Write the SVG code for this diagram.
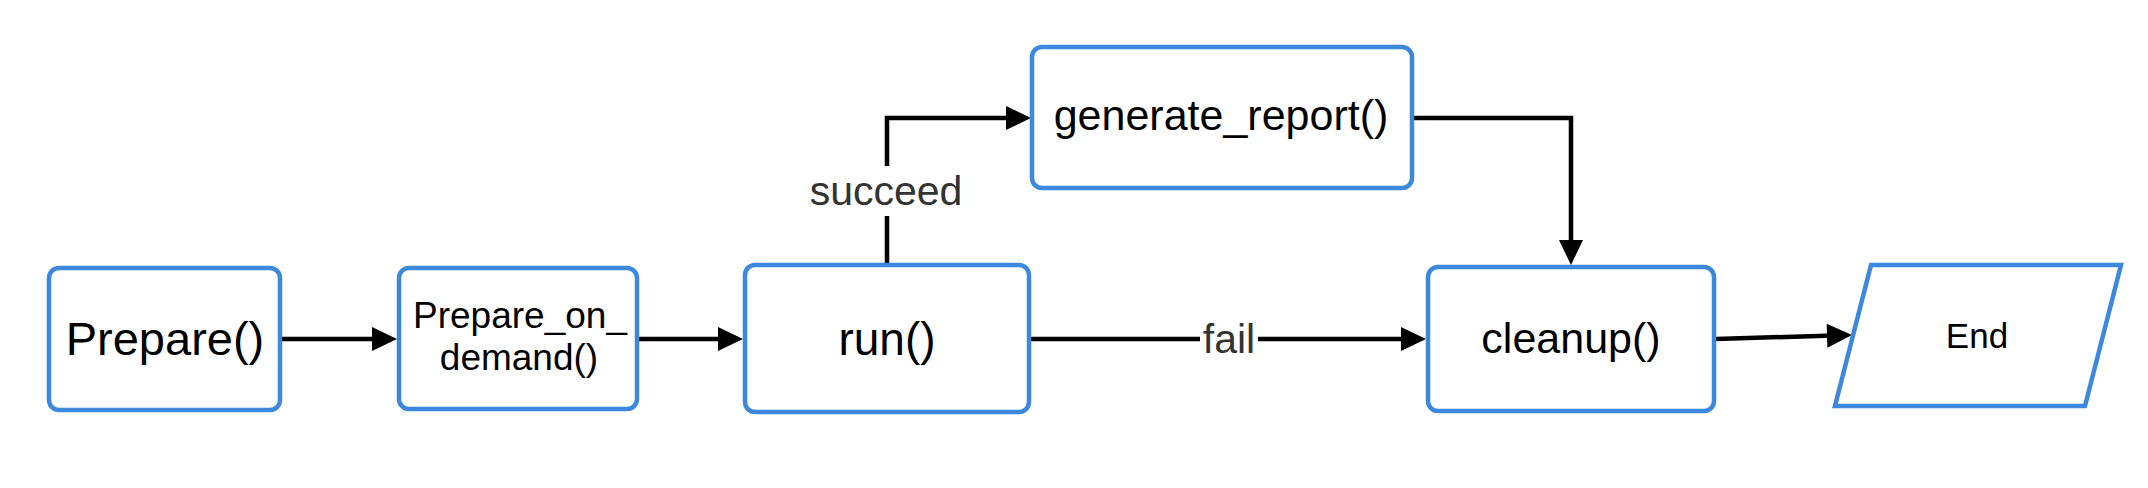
<svg xmlns="http://www.w3.org/2000/svg" width="2148" height="488" viewBox="0 0 2148 488">
<style>
.node { fill: #ffffff; stroke: #3b88dd; stroke-width: 4.5; }
.t { font-family: "Liberation Sans", Arial, sans-serif; fill: #000000; text-anchor: middle; }
.lbl { font-family: "Liberation Sans", Arial, sans-serif; fill: #333333; text-anchor: middle; font-size: 41px; }
.edge { fill: none; stroke: #000000; stroke-width: 4.5; marker-end: url(#arrow); }
.lblbg { fill: #ffffff; }
</style>
<defs>
<marker id="arrow" markerUnits="userSpaceOnUse" markerWidth="26" markerHeight="26" refX="15" refY="12" orient="auto" viewBox="0 0 26 24" overflow="visible">
<path d="M0,0 L25,12 L0,24 Z" fill="#000000"/>
</marker>
</defs>
<rect width="2148" height="488" fill="#ffffff"/>
<g id="connectors">
<path class="edge" d="M282,339 L387,339"/>
<path class="edge" d="M639,339 L733,339"/>
<path class="edge" d="M887,265 L887,118 L1021,118"/>
<path class="edge" d="M1031,339 L1416,339"/>
<path class="edge" d="M1413,118 L1571,118 L1571,255"/>
<path class="edge" d="M1716,339 L1842,335.3"/>
<rect class="lblbg" x="804" y="166" width="166" height="50"/>
<text class="lbl" x="886" y="205">succeed</text>
<rect class="lblbg" x="1200" y="318" width="58" height="44"/>
<text class="lbl" x="1229" y="353" font-size="42">fail</text>
</g>
<g id="prepare">
<rect class="node" x="49" y="268" width="231" height="142" rx="10"/>
<text class="t" x="165" y="355" font-size="47">Prepare()</text>
</g>
<g id="prepare_on_demand">
<rect class="node" x="399" y="268" width="238" height="141" rx="10"/>
<text class="t" x="520" y="328" font-size="37">Prepare_on_</text>
<text class="t" x="519" y="370" font-size="37">demand()</text>
</g>
<g id="run">
<rect class="node" x="745" y="265" width="284" height="147" rx="10"/>
<text class="t" x="887" y="355" font-size="46">run()</text>
</g>
<g id="generate_report">
<rect class="node" x="1032" y="47" width="380" height="141" rx="10"/>
<text class="t" x="1221" y="130" font-size="43">generate_report()</text>
</g>
<g id="cleanup">
<rect class="node" x="1428" y="267" width="286" height="144" rx="10"/>
<text class="t" x="1571" y="353" font-size="43">cleanup()</text>
</g>
<g id="end">
<polygon class="node" points="1871,265 2121,265 2085,406 1835,406"/>
<text class="t" x="1977" y="348" font-size="35">End</text>
</g>
</svg>
